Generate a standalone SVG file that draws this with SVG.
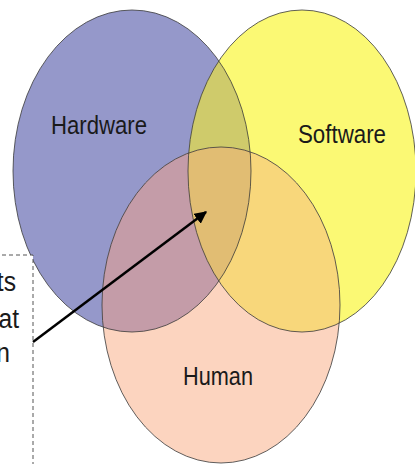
<svg xmlns="http://www.w3.org/2000/svg" width="415" height="464" viewBox="0 0 415 464">
<style>
.lbl{font-family:"Liberation Sans",Arial,sans-serif;font-size:26px;fill:#1a1a1a}
.outline{fill:none;stroke:#3a3a3a;stroke-width:1;stroke-opacity:0.8}
.note{font-family:"Liberation Sans",Arial,sans-serif;font-size:28px;fill:#1a1a1a}
</style>
<defs>
<clipPath id="cH"><ellipse cx="132" cy="171" rx="119" ry="161"/></clipPath>
<clipPath id="cS"><ellipse cx="302" cy="171" rx="114" ry="161"/></clipPath>
<marker id="ah" viewBox="0 0 10 10" refX="9" refY="5" markerWidth="5" markerHeight="5" orient="auto" markerUnits="strokeWidth">
<path d="M0,0 L10,5 L0,10 Z" fill="#000"/>
</marker>
</defs>
<rect width="415" height="464" fill="#fff"/>
<g id="hardware">
<ellipse cx="132" cy="171" rx="119" ry="161" fill="#9598CA"/>
</g>
<g id="software">
<ellipse cx="302" cy="171" rx="114" ry="161" fill="#FBF974"/>
<ellipse cx="302" cy="171" rx="114" ry="161" fill="#CFCB6B" clip-path="url(#cH)"/>
</g>
<g id="human">
<ellipse cx="221" cy="305" rx="119" ry="158" fill="#FCD4BF"/>
<ellipse cx="221" cy="305" rx="119" ry="158" fill="#C49CA8" clip-path="url(#cH)"/>
<ellipse cx="221" cy="305" rx="119" ry="158" fill="#F8D77B" clip-path="url(#cS)"/>
<g clip-path="url(#cS)"><ellipse cx="221" cy="305" rx="119" ry="158" fill="#E1BD73" clip-path="url(#cH)"/></g>
</g>
<g id="outlines">
<ellipse class="outline" cx="132" cy="171" rx="119" ry="161"/>
<ellipse class="outline" cx="302" cy="171" rx="114" ry="161"/>
<ellipse class="outline" cx="221" cy="305" rx="119" ry="158"/>
</g>
<g id="labels">
<text class="lbl" x="51" y="134" textLength="96" lengthAdjust="spacingAndGlyphs">Hardware</text>
<text class="lbl" x="298" y="143" textLength="88" lengthAdjust="spacingAndGlyphs">Software</text>
<text class="lbl" x="183" y="385" textLength="70" lengthAdjust="spacingAndGlyphs">Human</text>
</g>
<g id="note">
<rect x="-5" y="255" width="38" height="220" fill="#fff" stroke="#555" stroke-width="1" stroke-dasharray="4,3"/>
<text class="note" x="16" y="291" text-anchor="end" transform="translate(16,0) scale(0.88,1) translate(-16,0)">ts</text>
<text class="note" x="19" y="328" text-anchor="end" transform="translate(19,0) scale(0.88,1) translate(-19,0)">at</text>
<text class="note" x="10" y="362" text-anchor="end" transform="translate(10,0) scale(0.88,1) translate(-10,0)">n</text>
</g>
<g id="connectors">
<line x1="33" y1="342" x2="206" y2="212" stroke="#000" stroke-width="2.5" marker-end="url(#ah)"/>
</g>
</svg>
